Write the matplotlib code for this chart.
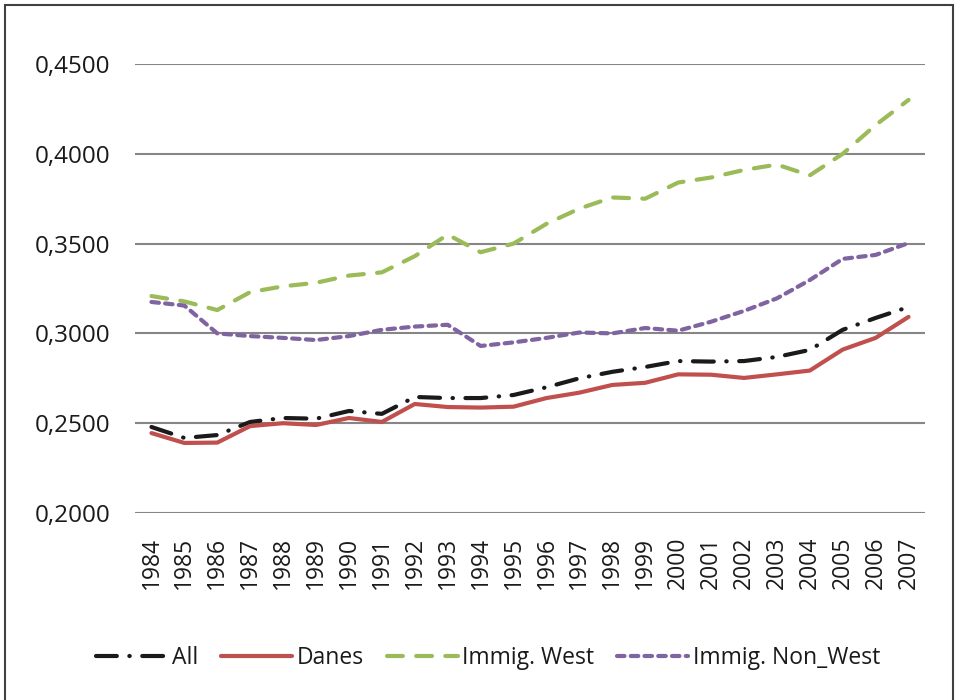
import matplotlib.pyplot as plt
from matplotlib.patches import Rectangle
from matplotlib.ticker import FuncFormatter

plt.rcParams['font.family'] = ['Open Sans', 'DejaVu Sans']

years = [str(y) for y in range(1984, 2008)]

all_vals = [0.2479, 0.2418, 0.2434, 0.2507, 0.2529, 0.2525, 0.2568, 0.2552, 0.2646, 0.2640,
            0.2640, 0.2657, 0.2700, 0.2750, 0.2786, 0.2813, 0.2846, 0.2843, 0.2846, 0.2869,
            0.2908, 0.3020, 0.3086, 0.3147]
danes = [0.2445, 0.2390, 0.2392, 0.2484, 0.2500, 0.2490, 0.2529, 0.2507, 0.2607, 0.2590,
         0.2587, 0.2592, 0.2640, 0.2670, 0.2713, 0.2725, 0.2772, 0.2770, 0.2752, 0.2772,
         0.2793, 0.2910, 0.2975, 0.3092]
immig_west = [0.3208, 0.3178, 0.3130, 0.3230, 0.3262, 0.3282, 0.3322, 0.3340, 0.3430, 0.3550,
              0.3452, 0.3500, 0.3610, 0.3695, 0.3757, 0.3750, 0.3840, 0.3868, 0.3910, 0.3940,
              0.3880, 0.4000, 0.4160, 0.4300]
immig_non_west = [0.3175, 0.3155, 0.3000, 0.2985, 0.2975, 0.2963, 0.2985, 0.3020, 0.3038, 0.3048,
                  0.2930, 0.2950, 0.2975, 0.3005, 0.3000, 0.3030, 0.3015, 0.3065, 0.3125, 0.3195,
                  0.3297, 0.3415, 0.3437, 0.3503]

fig = plt.figure(figsize=(9.57, 7.0), dpi=100)
ax = fig.add_axes([135 / 957, 1 - 513 / 700, (925 - 135) / 957, (513 - 64) / 700])

x = range(len(years))
ax.plot(x, all_vals, color='#1a1a1a', lw=3, dashes=(5, 3, 0.1, 3),
        dash_capstyle='round', label='All')
ax.plot(x, danes, color='#C0504D', lw=3, solid_capstyle='round', label='Danes')
ax.plot(x, immig_west, color='#9BBB59', lw=3, dashes=(3.8, 3.2),
        dash_capstyle='round', label='Immig. West')
ax.plot(x, immig_non_west, color='#8064A2', lw=3, dashes=(1.8, 1.5),
        dash_capstyle='round', label='Immig. Non_West')

ax.set_xlim(-0.5, len(years) - 0.5)
ax.set_ylim(0.2, 0.45)
ax.set_yticks([0.20, 0.25, 0.30, 0.35, 0.40, 0.45])
ax.yaxis.set_major_formatter(FuncFormatter(lambda v, p: f'{v:.4f}'.replace('.', ',')))
ax.set_xticks(list(x))
ax.set_xticklabels(years, rotation=90)
ax.tick_params(axis='both', length=0, colors='#1a1a1a')
ax.tick_params(axis='y', pad=18, labelsize=17.5)
ax.tick_params(axis='x', pad=17, labelsize=16.5)
ax.grid(axis='y', color='#868686', lw=1.5)
ax.set_axisbelow(True)
for s in ax.spines.values():
    s.set_visible(False)

leg = fig.legend(loc='center', bbox_to_anchor=(0.51, 1 - 658 / 700), ncol=4, frameon=False,
                 fontsize=16.5, handlelength=3.1, handletextpad=0.2, columnspacing=1.0)
for t in leg.get_texts():
    t.set_color('#1a1a1a')

fig.patches.append(Rectangle((5 / 957, -0.01), (953 - 5) / 957, 1.01 - 5 / 700,
                             transform=fig.transFigure, fill=False, ec='#404040', lw=1.5))

fig.savefig('out.png', dpi=100)
